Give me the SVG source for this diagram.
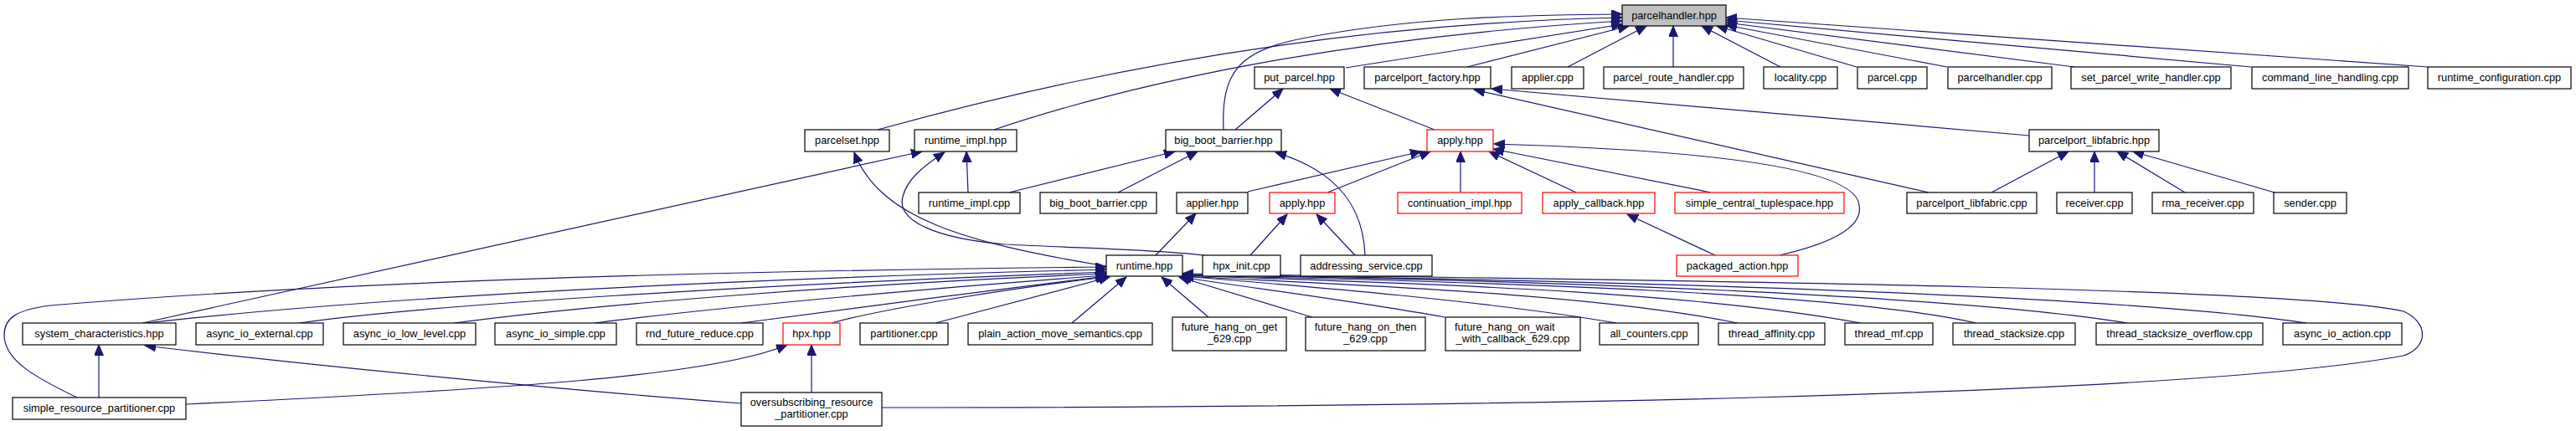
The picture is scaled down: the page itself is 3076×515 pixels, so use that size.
<svg xmlns="http://www.w3.org/2000/svg" width="3076" height="515" viewBox="0 0 3076 515">
<style>
.node rect{fill:#fff;stroke:#000;stroke-width:1.2}
.node.root rect{fill:#bfbfbf}
.node.red rect{stroke:#ff0000}
.node text{font-family:"Liberation Sans",Arial,sans-serif;font-size:12.8px;fill:#000;text-anchor:middle}
.node text.l{text-anchor:start}
#edges path{fill:none;stroke:#191970;stroke-width:1.2;marker-end:url(#ah)}
</style>
<defs>
<marker id="ah" markerUnits="userSpaceOnUse" viewBox="0 0 14 12" markerWidth="14" markerHeight="12" refX="13" refY="5.5" orient="auto">
<path d="M0,0 L13,5.5 L0,11 z" fill="#191970" stroke="#191970" stroke-width="1"/>
</marker>
</defs>
<rect width="3076" height="515" fill="#fff"/>
<g id="edges">
<!-- into parcelhandler.hpp -->
<path d="M1048,155 C1300,85 1600,28 1937,21"/>
<path d="M1187,155 C1350,100 1600,45 1937,25"/>
<path d="M1461,155 C1458,85 1480,60 1560,45 C1680,22 1800,18 1937,17"/>
<path d="M1607,81 L1937,29"/>
<path d="M1752,80 L1945,31"/>
<path d="M1872,80 L1966,31"/>
<path d="M1998,80 L1998,31"/>
<path d="M2126,80 L2032,31"/>
<path d="M2217,80 L2050,31"/>
<path d="M2325,80 L2061,30"/>
<path d="M2477,80 L2061,27"/>
<path d="M2688,80 L2061,24"/>
<path d="M2899,80 L2061,21"/>
<!-- row 3 to row 2 -->
<path d="M1475,155 L1532,106"/>
<path d="M1713,155 L1588,106"/>
<path d="M2423,162 L1781,106"/>
<path d="M2303,230 L1760,107"/>
<!-- into parcelport_libfabric.hpp -->
<path d="M2378,230 L2470,181"/>
<path d="M2501,230 L2501,181"/>
<path d="M2609,230 L2528,181"/>
<path d="M2716,230 L2547,181"/>
<!-- into runtime_impl.hpp / big_boot_barrier.hpp / parcelset.hpp -->
<path d="M1156,230 L1154,181"/>
<path d="M1205,230 L1403,181"/>
<path d="M1335,230 L1430,181"/>
<path d="M170,386 L1101,181"/>
<path d="M1437,305 C1380,298 1300,297 1200,292 C1120,285 1070,265 1078,235 C1083,215 1100,200 1128,182"/>
<path d="M1630,305 C1628,250 1600,205 1523,182"/>
<path d="M1321,318 C1150,290 1050,260 1020,182"/>
<!-- into apply.hpp (1) -->
<path d="M1490,229 L1697,181"/>
<path d="M1585,230 L1708,181"/>
<path d="M1744,230 L1744,181"/>
<path d="M1882,230 L1778,181"/>
<path d="M2043,230 L1783,178"/>
<path d="M2125,305 C2190,290 2225,270 2220,245 C2215,195 1990,178 1784,172"/>
<path d="M2048,305 L1943,256"/>
<!-- row 5 to row 4 -->
<path d="M1618,305 L1572,256"/>
<path d="M1380,305 L1428,255"/>
<path d="M1493,305 L1537,256"/>
<!-- into runtime.hpp -->
<path d="M92,475 C40,450 5,430 5,400 C5,380 20,370 60,365 C300,345 700,325 1321,319"/>
<path d="M175,386 C400,360 800,335 1321,322"/>
<path d="M357,386 C500,365 900,340 1321,325"/>
<path d="M542,386 C700,365 1000,340 1321,327"/>
<path d="M710,386 C850,368 1100,345 1321,329"/>
<path d="M885,386 C1000,370 1200,345 1321,330"/>
<path d="M993,386 C1050,370 1200,345 1322,331"/>
<path d="M1117,386 L1325,331"/>
<path d="M1280,386 L1345,331"/>
<path d="M1443,379 L1387,331"/>
<path d="M1567,379 L1408,331"/>
<path d="M1725,379 C1620,360 1500,345 1410,331"/>
<path d="M1930,386 C1780,360 1560,342 1412,330"/>
<path d="M2075,386 C1900,350 1600,340 1412,330"/>
<path d="M2222,386 C2000,345 1650,338 1412,329"/>
<path d="M2360,386 C2200,350 1800,337 1412,329"/>
<path d="M2540,386 C2350,355 1900,336 1412,328"/>
<path d="M2754,386 C2550,355 2000,336 1412,328"/>
<path d="M1053,487 C1700,487 2600,475 2870,425 C2900,415 2900,385 2870,372 C2750,345 2100,336 1412,327"/>
<!-- bottom rows -->
<path d="M885,482 C700,468 400,440 173,413"/>
<path d="M969,469 L969,412"/>
<path d="M222,483 C600,465 850,450 940,412"/>
<path d="M118,475 L118,412"/>
</g>
<g id="n_parcelhandler_hpp" class="node root"><rect x="1937" y="6" width="124" height="25"/><text x="1999" y="23">parcelhandler.hpp</text></g>
<g id="n_put_parcel_hpp" class="node"><rect x="1498" y="80" width="107" height="26"/><text x="1551.5" y="97">put_parcel.hpp</text></g>
<g id="n_parcelport_factory_hpp" class="node"><rect x="1629" y="80" width="151" height="26"/><text x="1704.5" y="97">parcelport_factory.hpp</text></g>
<g id="n_applier_cpp" class="node"><rect x="1805" y="80" width="86" height="26"/><text x="1848" y="97">applier.cpp</text></g>
<g id="n_parcel_route_handler_cpp" class="node"><rect x="1915" y="80" width="167" height="26"/><text x="1998.5" y="97">parcel_route_handler.cpp</text></g>
<g id="n_locality_cpp" class="node"><rect x="2106" y="80" width="88" height="26"/><text x="2150" y="97">locality.cpp</text></g>
<g id="n_parcel_cpp" class="node"><rect x="2218" y="80" width="83" height="26"/><text x="2259.5" y="97">parcel.cpp</text></g>
<g id="n_parcelhandler_cpp" class="node"><rect x="2326" y="80" width="124" height="26"/><text x="2388" y="97">parcelhandler.cpp</text></g>
<g id="n_set_parcel_write_handler_cpp" class="node"><rect x="2473" y="80" width="191" height="26"/><text x="2568.5" y="97">set_parcel_write_handler.cpp</text></g>
<g id="n_command_line_handling_cpp" class="node"><rect x="2689" y="80" width="187" height="26"/><text x="2782.5" y="97">command_line_handling.cpp</text></g>
<g id="n_runtime_configuration_cpp" class="node"><rect x="2899" y="80" width="171" height="26"/><text x="2984.5" y="97">runtime_configuration.cpp</text></g>
<g id="n_parcelset_hpp" class="node"><rect x="961" y="155" width="101" height="26"/><text x="1011.5" y="172">parcelset.hpp</text></g>
<g id="n_runtime_impl_hpp" class="node"><rect x="1092" y="155" width="122" height="26"/><text x="1153" y="172">runtime_impl.hpp</text></g>
<g id="n_big_boot_barrier_hpp" class="node"><rect x="1392" y="155" width="138" height="26"/><text x="1461" y="172">big_boot_barrier.hpp</text></g>
<g id="n_apply_hpp_1" class="node red"><rect x="1704" y="155" width="79" height="26"/><text x="1743.5" y="172">apply.hpp</text></g>
<g id="n_parcelport_libfabric_hpp" class="node"><rect x="2423" y="155" width="155" height="26"/><text x="2500.5" y="172">parcelport_libfabric.hpp</text></g>
<g id="n_runtime_impl_cpp" class="node"><rect x="1097" y="230" width="121" height="25"/><text x="1157.5" y="247">runtime_impl.cpp</text></g>
<g id="n_big_boot_barrier_cpp" class="node"><rect x="1242" y="230" width="139" height="25"/><text x="1311.5" y="247">big_boot_barrier.cpp</text></g>
<g id="n_applier_hpp" class="node"><rect x="1405" y="230" width="85" height="25"/><text x="1447.5" y="247">applier.hpp</text></g>
<g id="n_apply_hpp_2" class="node red"><rect x="1516" y="230" width="78" height="25"/><text x="1555" y="247">apply.hpp</text></g>
<g id="n_continuation_impl_hpp" class="node red"><rect x="1669" y="230" width="148" height="25"/><text x="1743" y="247">continuation_impl.hpp</text></g>
<g id="n_apply_callback_hpp" class="node red"><rect x="1842" y="230" width="134" height="25"/><text x="1909" y="247">apply_callback.hpp</text></g>
<g id="n_simple_central_tuplespace_hpp" class="node red"><rect x="2000" y="230" width="202" height="25"/><text x="2101" y="247">simple_central_tuplespace.hpp</text></g>
<g id="n_parcelport_libfabric_cpp" class="node"><rect x="2277" y="230" width="155" height="25"/><text x="2354.5" y="247">parcelport_libfabric.cpp</text></g>
<g id="n_receiver_cpp" class="node"><rect x="2456" y="230" width="90" height="25"/><text x="2501" y="247">receiver.cpp</text></g>
<g id="n_rma_receiver_cpp" class="node"><rect x="2570" y="230" width="121" height="25"/><text x="2630.5" y="247">rma_receiver.cpp</text></g>
<g id="n_sender_cpp" class="node"><rect x="2715" y="230" width="87" height="25"/><text x="2758.5" y="247">sender.cpp</text></g>
<g id="n_runtime_hpp" class="node"><rect x="1321" y="305" width="91" height="25"/><text x="1366.5" y="322">runtime.hpp</text></g>
<g id="n_hpx_init_cpp" class="node"><rect x="1436" y="305" width="93" height="25"/><text x="1482.5" y="322">hpx_init.cpp</text></g>
<g id="n_addressing_service_cpp" class="node"><rect x="1553" y="305" width="157" height="25"/><text x="1631.5" y="322">addressing_service.cpp</text></g>
<g id="n_packaged_action_hpp" class="node red"><rect x="2002" y="305" width="145" height="25"/><text x="2074.5" y="322">packaged_action.hpp</text></g>
<g id="n_system_characteristics_hpp" class="node"><rect x="27" y="386" width="183" height="26"/><text x="118.5" y="403">system_characteristics.hpp</text></g>
<g id="n_async_io_external_cpp" class="node"><rect x="234" y="386" width="152" height="26"/><text x="310" y="403">async_io_external.cpp</text></g>
<g id="n_async_io_low_level_cpp" class="node"><rect x="410" y="386" width="158" height="26"/><text x="489" y="403">async_io_low_level.cpp</text></g>
<g id="n_async_io_simple_cpp" class="node"><rect x="591" y="386" width="145" height="26"/><text x="663.5" y="403">async_io_simple.cpp</text></g>
<g id="n_rnd_future_reduce_cpp" class="node"><rect x="760" y="386" width="151" height="26"/><text x="835.5" y="403">rnd_future_reduce.cpp</text></g>
<g id="n_hpx_hpp" class="node red"><rect x="935" y="386" width="68" height="26"/><text x="969" y="403">hpx.hpp</text></g>
<g id="n_partitioner_cpp" class="node"><rect x="1027" y="386" width="105" height="26"/><text x="1079.5" y="403">partitioner.cpp</text></g>
<g id="n_plain_action_move_semantics_cpp" class="node"><rect x="1156" y="386" width="220" height="26"/><text x="1266" y="403">plain_action_move_semantics.cpp</text></g>
<g id="n_future_hang_on_get_629_cpp" class="node"><rect x="1400" y="379" width="136" height="40"/><text x="1468" y="395">future_hang_on_get</text><text x="1468" y="409">_629.cpp</text></g>
<g id="n_future_hang_on_then_629_cpp" class="node"><rect x="1559" y="379" width="143" height="40"/><text x="1630.5" y="395">future_hang_on_then</text><text x="1630.5" y="409">_629.cpp</text></g>
<g id="n_future_hang_on_wait_with_callback_629_cpp" class="node"><rect x="1726" y="379" width="161" height="40"/><text class="l" x="1737" y="395">future_hang_on_wait</text><text x="1806.5" y="409">_with_callback_629.cpp</text></g>
<g id="n_all_counters_cpp" class="node"><rect x="1910" y="386" width="118" height="26"/><text x="1969" y="403">all_counters.cpp</text></g>
<g id="n_thread_affinity_cpp" class="node"><rect x="2052" y="386" width="127" height="26"/><text x="2115.5" y="403">thread_affinity.cpp</text></g>
<g id="n_thread_mf_cpp" class="node"><rect x="2203" y="386" width="105" height="26"/><text x="2255.5" y="403">thread_mf.cpp</text></g>
<g id="n_thread_stacksize_cpp" class="node"><rect x="2332" y="386" width="146" height="26"/><text x="2405" y="403">thread_stacksize.cpp</text></g>
<g id="n_thread_stacksize_overflow_cpp" class="node"><rect x="2503" y="386" width="199" height="26"/><text x="2602.5" y="403">thread_stacksize_overflow.cpp</text></g>
<g id="n_async_io_action_cpp" class="node"><rect x="2726" y="386" width="142" height="26"/><text x="2797" y="403">async_io_action.cpp</text></g>
<g id="n_simple_resource_partitioner_cpp" class="node"><rect x="15" y="475" width="207" height="26"/><text x="118.5" y="492">simple_resource_partitioner.cpp</text></g>
<g id="n_oversubscribing_resource_partitioner_cpp" class="node"><rect x="885" y="469" width="168" height="40"/><text x="969" y="485">oversubscribing_resource</text><text x="969" y="499">_partitioner.cpp</text></g>
</svg>
